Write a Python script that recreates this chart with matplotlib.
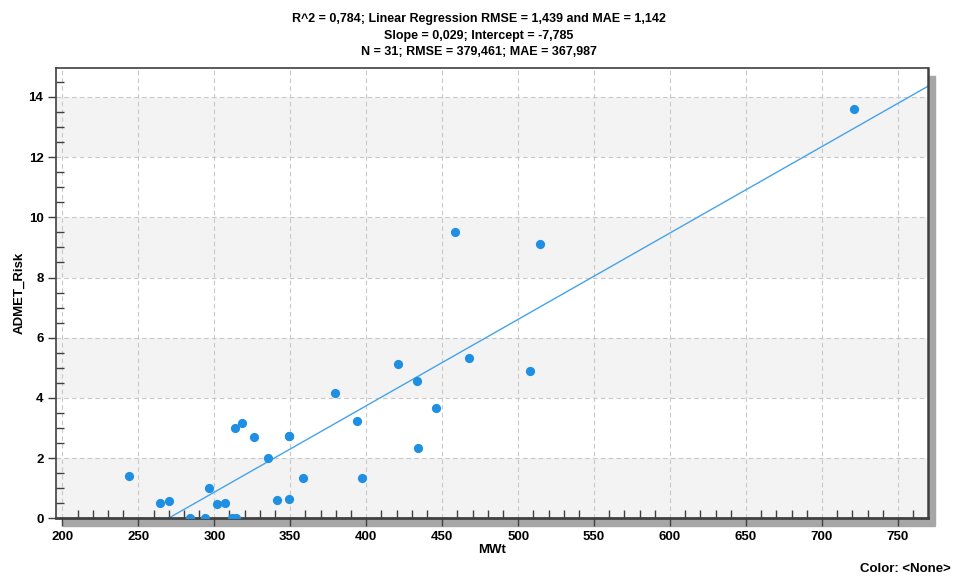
import matplotlib
matplotlib.use('Agg')
import matplotlib.pyplot as plt
from matplotlib.patches import Rectangle
from matplotlib.ticker import MultipleLocator
import numpy as np

# MWt vs ADMET_Risk
mwt = [243.7, 264.5, 270.4, 284.2, 294.1, 296.3, 302.1, 307.0, 311.8, 349.3,
       314.1, 313.8, 318.4, 326.1, 335.1, 341.1, 349.3, 349.3, 358.4, 379.4,
       394.1, 397.0, 421.1, 433.2, 434.2, 446.1, 458.6, 467.8, 507.9, 514.5,
       721.3]
risk = [1.40, 0.51, 0.58, 0.0, 0.0, 1.00, 0.49, 0.51, 0.0, 2.72,
        0.0, 3.00, 3.16, 2.70, 1.99, 0.61, 2.72, 0.65, 1.33, 4.16,
        3.22, 1.33, 5.14, 4.55, 2.32, 3.65, 9.51, 5.34, 4.88, 9.11,
        13.59]

title_lines = ["R^2 = 0,784; Linear Regression RMSE = 1,439 and MAE = 1,142",
               "Slope = 0,029; Intercept = -7,785",
               "N = 31; RMSE = 379,461; MAE = 367,987"]

plt.rcParams['font.family'] = ['Liberation Sans', 'DejaVu Sans']
plt.rcParams['font.weight'] = 'bold'

fig = plt.figure(figsize=(9.57, 5.78), dpi=100)
ax = fig.add_axes([0.0585, 0.1033, 0.9112, 0.7785])
ax.set_zorder(2)

# drop shadow behind the plot box
pos = ax.get_position()
dx, dy = 7 / 957, 8 / 578
fig.patches.append(Rectangle((pos.x0 + dx, pos.y0 - dy), pos.width, pos.height,
                             transform=fig.transFigure, color='#a6a6a6', zorder=0))

xlo, xhi = 195.8, 769.8
ax.set_xlim(xlo, xhi)
ax.set_ylim(0, 14.95)

# alternating bands
for b in range(0, 14, 4):
    ax.axhspan(b, b + 2, color='#f3f3f3', zorder=0, lw=0)

ax.grid(True, which='major', ls=(0, (4, 3)), color='#c8c8c8', lw=0.8, zorder=1)
ax.set_axisbelow(True)

ax.scatter(mwt, risk, s=44, color='#1f8fe3', zorder=3, linewidths=0)

slope, icpt = np.polyfit(mwt, risk, 1)
xs = np.array([xlo, xhi])
ax.plot(xs, slope * xs + icpt, color='#45a3ea', lw=1.0, zorder=2)

ax.xaxis.set_major_locator(MultipleLocator(50))
ax.xaxis.set_minor_locator(MultipleLocator(10))
ax.yaxis.set_major_locator(MultipleLocator(2))
ax.yaxis.set_minor_locator(MultipleLocator(0.5))
ax.tick_params(which='major', direction='out', length=6, width=1, color='#404040',
               labelsize=9.5, pad=3)
ax.tick_params(which='minor', direction='in', length=6, width=1, color='#404040')
for lab in ax.get_xticklabels() + ax.get_yticklabels():
    lab.set_fontweight('bold')

for s in ax.spines.values():
    s.set_color('#404040')
    s.set_linewidth(1.2)
ax.spines['bottom'].set_linewidth(2)
ax.spines['right'].set_linewidth(1.8)

ax.set_xlabel('MWt', fontsize=9.5, fontweight='bold', labelpad=1)
ax.set_ylabel('ADMET_Risk', fontsize=9.5, fontweight='bold', labelpad=2)

for i, t in enumerate(title_lines):
    fig.text(0.5, 1 - (19 + i * 16.5) / 578, t, ha='center', va='center',
             fontsize=9, fontweight='bold')

fig.text(0.993, 1 - 569 / 578, 'Color: <None>', ha='right', va='center',
         fontsize=9.5, fontweight='bold')

fig.savefig('out.png', dpi=100)
